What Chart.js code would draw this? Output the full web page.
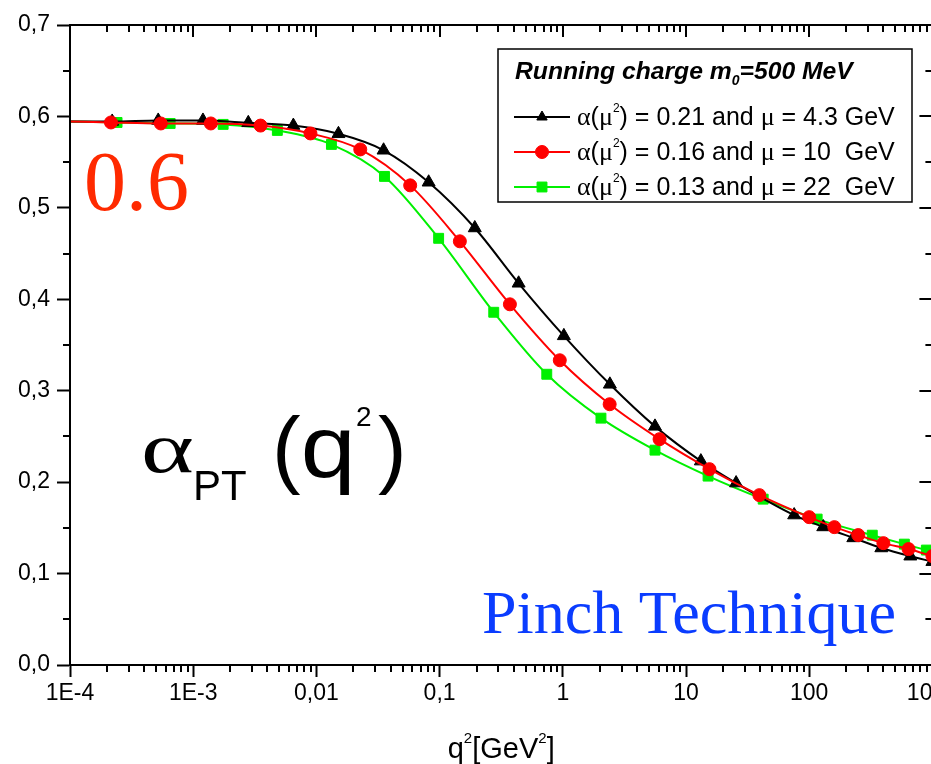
<!DOCTYPE html>
<html>
<head>
<meta charset="utf-8">
<script src="https://cdn.jsdelivr.net/npm/chart.js@4.4.1/dist/chart.umd.min.js"></script>
<style>
  html, body { margin:0; padding:0; background:#fff; overflow:hidden; width:931px; height:764px; }
  #wrap { position:absolute; left:0; top:0; width:961px; height:764px; }
</style>
</head>
<body>
<div id="wrap"><canvas id="c"></canvas></div>
<script>
// ---- data ----
const xTickValues = [1e-4, 1e-3, 1e-2, 1e-1, 1, 10, 100, 1000];
const xTickLabels = ['1E-4', '1E-3', '0,01', '0,1', '1', '10', '100', '1000'];
const yTickValues = [0, 0.1, 0.2, 0.3, 0.4, 0.5, 0.6, 0.7];
const yTickLabels = ['0,0', '0,1', '0,2', '0,3', '0,4', '0,5', '0,6', '0,7'];

const seriesNames = [
  'α(μ²) = 0.21 and μ = 4.3 GeV',
  'α(μ²) = 0.16 and μ = 10  GeV',
  'α(μ²) = 0.13 and μ = 22  GeV'
];

const qBlack = [1e-4, 2.2e-4, 5.2e-4, 1.2e-3, 2.8e-3, 6.5e-3, 0.0151, 0.0351, 0.0815, 0.193, 0.438, 1.02, 2.41, 5.6, 13.2, 25.5, 75.5, 130, 228, 385, 662, 1000];
const aBlack = [0.5945, 0.5945, 0.5956, 0.5956, 0.593, 0.590, 0.581, 0.563, 0.528, 0.478, 0.4175, 0.360, 0.307, 0.261, 0.223, 0.199, 0.164, 0.151, 0.139, 0.128, 0.119, 0.113];

const qRed = [1e-4, 2.15e-4, 5.46e-4, 1.39e-3, 3.52e-3, 8.95e-3, 0.0227, 0.0577, 0.146, 0.372, 0.945, 2.40, 6.10, 15.5, 39.4, 100, 160, 250, 400, 640, 1000];
const aRed = [0.5945, 0.5934, 0.5923, 0.5923, 0.590, 0.5814, 0.5639, 0.5246, 0.4634, 0.3945, 0.3333, 0.2852, 0.247, 0.2142, 0.1858, 0.1617, 0.1508, 0.1421, 0.1333, 0.1268, 0.1191];

const qGreen = [1e-4, 2.41e-4, 6.5e-4, 1.75e-3, 4.82e-3, 0.01324, 0.0357, 0.0982, 0.275, 0.741, 2.04, 5.6, 15.1, 42.3, 116, 325, 592, 893];
const aGreen = [0.5945, 0.5934, 0.5923, 0.5913, 0.5847, 0.5694, 0.5344, 0.4667, 0.3858, 0.318, 0.270, 0.235, 0.2066, 0.1814, 0.1596, 0.142, 0.1322, 0.1257];

// ---- build ----
const toPts = (qs, as) => qs.map((q, i) => ({ x: q, y: as[i] }));

function ds(label, qs, as, color, style, r, order) {
  return {
    label, data: toPts(qs, as),
    borderColor: color, backgroundColor: color,
    borderWidth: 2, pointStyle: style,
    pointRadius: ctx => (ctx.raw && ctx.raw.x <= 1e-4) ? 0 : r,
    pointBorderWidth: 1, pointBorderColor: color,
    cubicInterpolationMode: 'monotone', clip: false, order
  };
}

const datasets = [
  ds(seriesNames[0], qBlack, aBlack, '#000000', 'triangle', 7.5, 1),
  ds(seriesNames[1], qRed, aRed, '#ff0000', 'circle', 6.5, 0),
  ds(seriesNames[2], qGreen, aGreen, '#00f000', 'rect', 7, 2)
];

const SANS = 'Arial, "Liberation Sans", sans-serif';
const SERIF = '"Times New Roman", "Liberation Serif", serif';

function runs(ctx, x, y, parts) {
  for (const [t, f, dy] of parts) {
    ctx.font = f;
    ctx.fillText(t, x, y + (dy || 0));
    x += ctx.measureText(t).width;
  }
  return x;
}

function marker(ctx, style, r, x, y, color) {
  ctx.fillStyle = color; ctx.strokeStyle = color; ctx.lineWidth = 1;
  if (Chart.helpers && Chart.helpers.drawPoint) {
    Chart.helpers.drawPoint(ctx, { pointStyle: style, radius: r, borderWidth: 1, rotation: 0 }, x, y);
    return;
  }
  ctx.beginPath(); ctx.arc(x, y, r, 0, Math.PI * 2); ctx.fill();
}

const framePlugin = {
  id: 'framePlugin',
  afterDatasetsDraw(chart) {
    const { ctx, chartArea: { left, right, top, bottom }, scales: { x, y } } = chart;
    ctx.save();
    ctx.strokeStyle = '#000'; ctx.lineWidth = 2; ctx.lineCap = 'butt';
    ctx.beginPath();
    for (let e = -4; e < 3; e++) {
      for (let m = 2; m <= 9; m++) {
        const px = Math.round(x.getPixelForValue(m * Math.pow(10, e)));
        ctx.moveTo(px, bottom); ctx.lineTo(px, bottom + 7);
        ctx.moveTo(px, top); ctx.lineTo(px, top + 7);
      }
    }
    for (const v of xTickValues) {
      const px = Math.round(x.getPixelForValue(v));
      ctx.moveTo(px, top); ctx.lineTo(px, top + 12);
    }
    for (let k = 0; k < 7; k++) {
      const py = Math.round(y.getPixelForValue(0.05 + k * 0.1));
      ctx.moveTo(left, py); ctx.lineTo(left - 7, py);
      ctx.moveTo(right, py); ctx.lineTo(right - 7, py);
    }
    for (const v of yTickValues) {
      const py = Math.round(y.getPixelForValue(v));
      ctx.moveTo(right, py); ctx.lineTo(right - 13, py);
    }
    ctx.stroke();
    ctx.strokeRect(left, top, right - left, bottom - top);

    // ---- annotations ----
    ctx.textBaseline = 'alphabetic';
    ctx.fillStyle = '#ff2a00';
    ctx.font = '84px ' + SERIF;
    ctx.fillText('0.6', 84, 210);

    ctx.fillStyle = '#0a3cff';
    ctx.font = '62px ' + SERIF;
    ctx.fillText('Pinch Technique', 482, 633);

    ctx.fillStyle = '#000';
    // α_PT (q²)
    ctx.save();
    ctx.translate(141, 472); ctx.scale(1.4, 1);
    ctx.font = '72px ' + SERIF; ctx.fillText('α', 0, 0);
    ctx.restore();
    runs(ctx, 193, 500, [['PT', '42px ' + SANS, 0]]);
    let cx = runs(ctx, 272, 477, [['(', '86px ' + SANS, 0]]);
    ctx.save();
    ctx.translate(cx, 477); ctx.scale(1.12, 1);
    ctx.font = '88px ' + SANS; ctx.fillText('q', 0, 0);
    ctx.restore();
    runs(ctx, 356, 426, [['2', '28px ' + SANS, 0]]);
    runs(ctx, 378, 477, [[')', '86px ' + SANS, 0]]);

    // axis title q²[GeV²]
    const parts = [['q', '29px ' + SANS, 0], ['2', '15px ' + SANS, -15], ['[GeV', '29px ' + SANS, 0], ['2', '15px ' + SANS, -15], [']', '29px ' + SANS, 0]];
    let w = 0;
    for (const [t, f] of parts) { ctx.font = f; w += ctx.measureText(t).width; }
    runs(ctx, (left + right) / 2 - w / 2, 758, parts);

    // ---- legend ----
    const bx = 498, by = 49, bw = 414, bh = 153;
    ctx.fillStyle = '#fff';
    ctx.fillRect(bx, by, bw, bh);
    ctx.strokeStyle = '#000'; ctx.lineWidth = 1.5;
    ctx.strokeRect(bx, by, bw, bh);
    ctx.fillStyle = '#000';
    runs(ctx, 515, 79, [
      ['Running charge m', 'italic bold 24.7px ' + SANS, 0],
      ['0', 'italic bold 14px ' + SANS, 6],
      ['=500 MeV', 'italic bold 24.7px ' + SANS, 0]
    ]);
    const rowsY = [117, 152, 187];
    const nums = [['0.21', '4.3 GeV'], ['0.16', '10  GeV'], ['0.13', '22  GeV']];
    chart.data.datasets.forEach((d, i) => {
      const yy = rowsY[i];
      ctx.strokeStyle = d.borderColor; ctx.lineWidth = 2;
      ctx.beginPath(); ctx.moveTo(514, yy); ctx.lineTo(570, yy); ctx.stroke();
      const r = d.pointStyle === 'rect' ? 7 : 6.5;
      marker(ctx, d.pointStyle, d.pointStyle === 'triangle' ? 6 : r, 542, yy, d.borderColor);
      ctx.fillStyle = '#000';
      const f = '25px ' + SANS, s = '26px ' + SERIF;
      runs(ctx, 577, yy + 8, [
        ['α', s, 0], ['(', f, 0], ['μ', s, 0], ['2', '12px ' + SANS, -13], [')', f, 0],
        [' = ' + nums[i][0] + ' and ', f, 0], ['μ', s, 0], [' = ' + nums[i][1], f, 0]
      ]);
    });
    ctx.restore();
  }
};

new Chart(document.getElementById('c'), {
  type: 'line',
  data: { datasets },
  options: {
    responsive: true, maintainAspectRatio: false, animation: false, events: [],
    layout: { padding: { top: 25, left: 0, right: 0, bottom: 0 } },
    plugins: { legend: { display: false }, tooltip: { enabled: false } },
    scales: {
      x: {
        type: 'logarithmic', min: 1e-4, max: 1000,
        afterBuildTicks: s => { s.ticks = xTickValues.map(v => ({ value: v })); },
        afterFit: s => { s.height = 99; },
        ticks: {
          autoSkip: false, maxRotation: 0, padding: 3, color: '#000',
          font: { family: SANS, size: 23 },
          callback: (v) => { const i = xTickValues.findIndex(t => Math.abs(Math.log10(t) - Math.log10(v)) < 1e-6); return i >= 0 ? xTickLabels[i] : ''; }
        },
        grid: { drawOnChartArea: false, drawTicks: true, tickLength: 12, tickWidth: 2, tickColor: '#000' },
        border: { display: true, color: '#000', width: 2 }
      },
      y: {
        type: 'linear', min: 0, max: 0.7,
        afterBuildTicks: s => { s.ticks = yTickValues.map(v => ({ value: v })); },
        afterFit: s => { s.width = 70; },
        ticks: {
          autoSkip: false, padding: 7, color: '#000',
          font: { family: SANS, size: 23 },
          callback: (v) => { const i = yTickValues.findIndex(t => Math.abs(t - v) < 1e-6); return i >= 0 ? yTickLabels[i] : ''; }
        },
        grid: { drawOnChartArea: false, drawTicks: true, tickLength: 13, tickWidth: 2, tickColor: '#000' },
        border: { display: true, color: '#000', width: 2 }
      }
    }
  },
  plugins: [framePlugin]
});
</script>
</body>
</html>
